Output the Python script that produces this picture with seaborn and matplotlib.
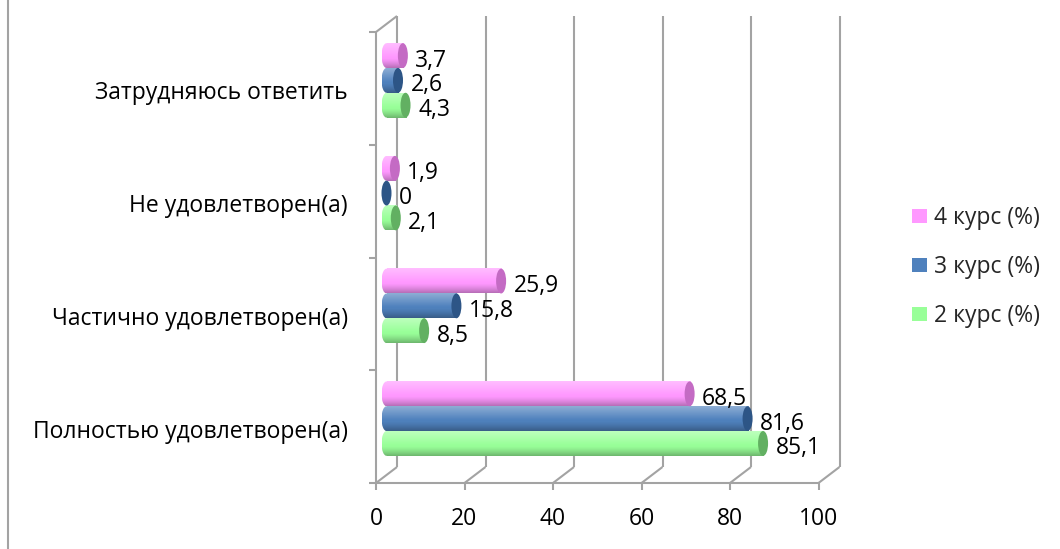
import numpy as np
import pandas as pd
import matplotlib
matplotlib.use('Agg')
import matplotlib.pyplot as plt
import seaborn as sns
from matplotlib.colors import to_rgb
from matplotlib.lines import Line2D
from matplotlib.patches import Ellipse
from matplotlib.transforms import IdentityTransform, ScaledTranslation

# data
categories = ['Затрудняюсь ответить', 'Не удовлетворен(а)',
              'Частично удовлетворен(а)', 'Полностью удовлетворен(а)']
courses = ['4 курс (%)', '3 курс (%)', '2 курс (%)']
kurs4 = [3.7, 1.9, 25.9, 68.5]
kurs3 = [2.6, 0, 15.8, 81.6]
kurs2 = [4.3, 2.1, 8.5, 85.1]
x_ticks = [0, 20, 40, 60, 80, 100]

colors = ['#FF99FF', '#4F81BD', '#99FF99']
cap_colors = ['#C46BC4', '#2D5586', '#62B062']

df = pd.DataFrame({
    'cat': categories * 3,
    'course': np.repeat(courses, len(categories)),
    'value': kurs4 + kurs3 + kurs2,
})

sns.set_theme(style='white')
plt.rcParams['font.family'] = ['Open Sans', 'DejaVu Sans']
FS = 16.5

W, H, DPI = 1060, 549, 100
fig = plt.figure(figsize=(W / DPI, H / DPI), dpi=DPI)

# the axes is the middle depth plane of the 3-D box (x=0 at pixel 386.5, 100 at 829)
X0, X100, T, B = 386.5, 829, 24, 475
scale = (X100 - X0) / 100
L = X0 - 6
ax = fig.add_axes([L / W, 1 - B / H, (X100 - L) / W, (B - T) / H])
ax.patch.set_visible(False)
sns.barplot(data=df, y='cat', x='value', hue='course', hue_order=courses,
            palette=colors, orient='h', width=0.66, saturation=1,
            linewidth=0, ax=ax)
for s in ax.spines.values():
    s.set_visible(False)
ax.set_xlabel('')
ax.set_ylabel('')
xlim = (-(X0 - L) / scale, 100)
ax.set_xlim(*xlim)
ax.set_ylim(len(categories) - 0.5, -0.5)

# depth offset (pixels) between middle plane and front / back planes
dx, dy = 10.5, 8.0
gray = '#A3A3A3'


def px(xv, yv, k):
    p = ax.transData.transform((xv, yv))
    return p[0] + k * dx, p[1] + k * dy


def seg(p, q):
    fig.add_artist(Line2D([p[0], q[0]], [p[1], q[1]], transform=IdentityTransform(),
                          color=gray, lw=1.5, zorder=-1, solid_capstyle='butt'))


def shade(c):
    # vertical cylinder shading, top row first
    base = np.array(to_rgb(c))
    t = np.linspace(0, 1, 40)[:, None]
    light = 0.35 * np.clip(1 - t / 0.55, 0, 1)
    dark = 0.28 * np.clip((t - 0.6) / 0.4, 0, 1) ** 1.3
    rgb = base + (1 - base) * light
    rgb = rgb * (1 - dark)
    return rgb[:, None, :]


top, bot = -0.5, len(categories) - 0.5
for v in x_ticks:
    seg(px(v, top, 1), px(v, bot, 1))          # back wall
    seg(px(v, bot, -1), px(v, bot, 1))         # floor
    f = px(v, bot, -1)
    seg(f, (f[0], f[1] - 7))                   # x tick
seg(px(0, bot, -1), px(100, bot, -1))
seg(px(0, top, -1), px(0, bot, -1))
seg(px(0, top, -1), px(0, top, 1))
for yb in np.arange(top, bot + 1):
    f = px(0, yb, -1)
    seg((f[0] - 7, f[1]), f)

# left frame border
fig.add_artist(Line2D([8, 8], [0, H], transform=IdentityTransform(), color=gray, lw=1.5))

# cylinder look and value labels
cap_w = 10 / scale
for i, cont in enumerate(ax.containers):
    grad = shade(colors[i])
    for p in cont.patches:
        w = p.get_width()
        h = p.get_height()
        y0 = p.get_y()
        yc = y0 + h / 2
        if w > 0:
            ax.imshow(grad, extent=(0, w, y0 + h, y0), origin='upper',
                      aspect='auto', interpolation='bilinear', zorder=2.1)
            # rounded back end, same shading clipped to an ellipse
            end = Ellipse((0, yc), cap_w, h, facecolor='none', lw=0)
            ax.add_patch(end)
            im = ax.imshow(grad, extent=(-cap_w / 2, cap_w / 2, y0 + h, y0), origin='upper',
                           aspect='auto', interpolation='bilinear', zorder=2.1)
            im.set_clip_path(end)
        ax.add_patch(Ellipse((w, yc), cap_w, h, color=cap_colors[i], lw=0, zorder=2.3))
        ax.annotate(f'{w:g}'.replace('.', ','), xy=(w, yc), xytext=(9, -3.6),
                    textcoords='offset points', va='center', ha='left',
                    fontsize=FS, color='black')

ax.set_xlim(*xlim)
ax.set_ylim(len(categories) - 0.5, -0.5)
ax.set_yticks(range(len(categories)))
ax.set_yticklabels(categories)
ax.set_xticks(x_ticks)
ax.tick_params(axis='y', length=0, pad=27.7 - (X0 - L) * 0.72, labelsize=FS, colors='black')
ax.tick_params(axis='x', length=0, pad=23, labelsize=FS, colors='black')
for t in ax.yaxis.get_major_ticks():
    t.label1.set_transform(t.label1.get_transform() + ScaledTranslation(0, -0.10, fig.dpi_scale_trans))
for t in ax.xaxis.get_major_ticks():
    t.label1.set_transform(t.label1.get_transform() + ScaledTranslation(-0.105, 0, fig.dpi_scale_trans))

leg = ax.legend(loc='center left', bbox_to_anchor=(912 / W, 1 - 267 / H),
                bbox_transform=fig.transFigure, frameon=False, fontsize=FS,
                handlelength=0.65, handleheight=0.57, handletextpad=0.3,
                labelspacing=1.09, borderpad=0, borderaxespad=0)

fig.savefig('out.png', dpi=DPI, facecolor='white')
